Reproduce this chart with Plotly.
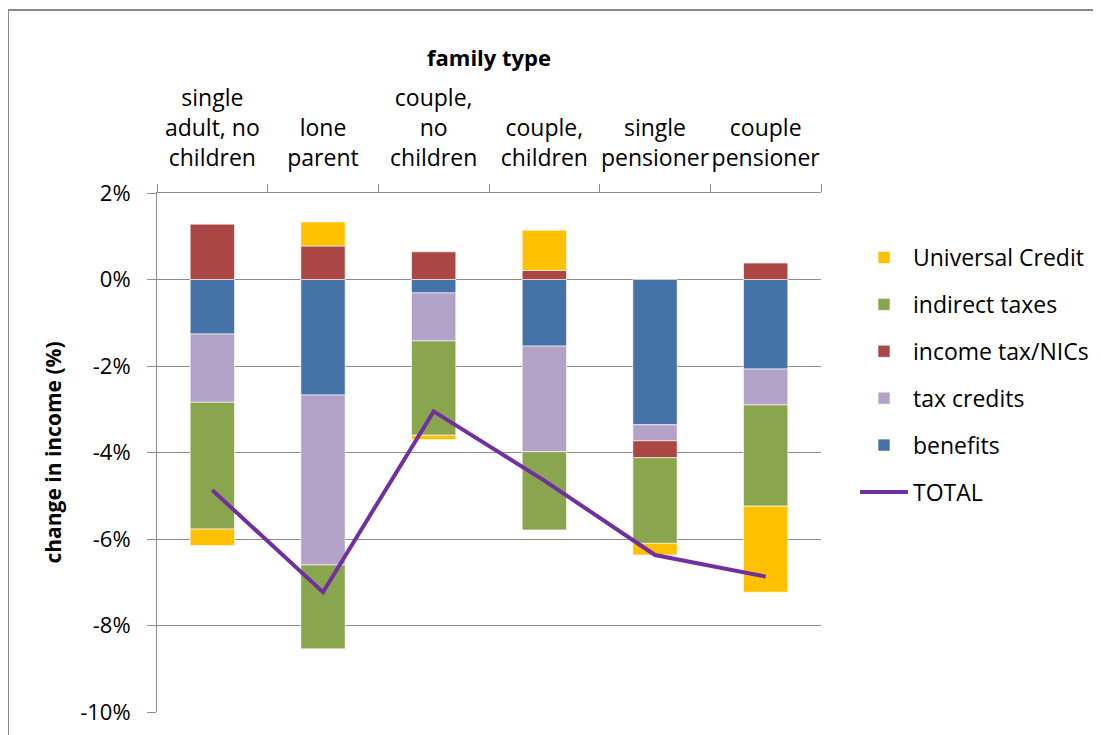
import plotly.graph_objects as go

# ---- data (percent change in income) ----
categories = ["single<br>adult, no<br>children", "lone<br>parent", "couple,<br>no<br>children",
              "couple,<br>children", "single<br>pensioner", "couple<br>pensioner"]
benefits = [-1.26, -2.67, -0.31, -1.54, -3.36, -2.07]
tax_credits = [-1.58, -3.93, -1.11, -2.44, -0.37, -0.83]
income_tax_nics = [1.28, 0.775, 0.64, 0.21, -0.39, 0.38]
indirect_taxes = [-2.93, -1.94, -2.18, -1.81, -1.98, -2.34]
universal_credit = [-0.38, 0.555, -0.10, 0.93, -0.27, -1.99]
total = [-4.87, -7.23, -3.05, -4.65, -6.37, -6.87]
y_tick_vals = [2, 0, -2, -4, -6, -8, -10]
y_tick_text = ["2%", "0%", "-2%", "-4%", "-6%", "-8%", "-10%"]

# ---- layout geometry (pixels, screen coords; page body adds an 8px offset) ----
OFF = 8
W, H = 1101, 735
PL, PR, PT, PB = 157, 821, 193, 712          # plot area on screen
ML, MT = PL - OFF, PT - OFF
MR, MB = W + OFF - PR, H + OFF - PB
PW, PH = PR - PL, PB - PT
FONT = "Open Sans"
GRID = "#8c8c8c"


def px_x(x):
    return (x - PL) / PW


def px_y(y):
    return (PB - y) / PH


fig = go.Figure()

fig.add_trace(go.Scatter(x=categories, y=total, name="TOTAL", mode="lines",
                         line=dict(color="#7030A0", width=4), legendgroup="g0", legendrank=6))

series = [
    ("benefits", benefits, "#4572A7", 5),
    ("tax credits", tax_credits, "#B3A2C7", 4),
    ("income tax/NICs", income_tax_nics, "#AA4643", 3),
    ("indirect taxes", indirect_taxes, "#89A54E", 2),
    ("Universal Credit", universal_credit, "#FFC000", 1),
]
for i, (name, vals, col, rank) in enumerate(series):
    fig.add_trace(go.Bar(x=categories, y=vals, name=name, legendgroup=f"g{i+1}", legendrank=rank,
                         marker=dict(color=col, line=dict(color="rgba(255,255,255,0.6)", width=1))))

fig.update_layout(
    width=W, height=H,
    margin=dict(l=ML, r=MR, t=MT, b=MB, autoexpand=False),
    barmode="relative", bargap=0.6,
    plot_bgcolor="white", paper_bgcolor="white",
    font=dict(family=FONT, size=22, color="#000000"),
    title=dict(text="family type", x=px_x(489), xref="paper", xanchor="center",
               y=1 - (58 - OFF) / H, yref="container", yanchor="middle",
               font=dict(family=FONT, size=22, weight="bold", color="#000000")),
    legend=dict(x=px_x(855), y=px_y(236), xanchor="left", yanchor="top",
                traceorder="grouped", tracegroupgap=14, itemwidth=48,
                font=dict(family=FONT, size=23), bgcolor="rgba(0,0,0,0)"),
    showlegend=True,
)

fig.update_xaxes(side="top", type="category", showline=True, linecolor=GRID, linewidth=1,
                 ticks="outside", tickson="boundaries", ticklen=8, tickcolor=GRID,
                 showgrid=False, tickangle=0, tickfont=dict(family=FONT, size=23),
                 ticklabelstandoff=17, fixedrange=True)
fig.update_yaxes(range=[-10, 2], tickvals=y_tick_vals, ticktext=y_tick_text,
                 showgrid=True, gridcolor=GRID, gridwidth=1,
                 zeroline=True, zerolinecolor=GRID, zerolinewidth=1,
                 showline=True, linecolor=GRID, linewidth=1,
                 ticks="outside", ticklen=9, tickcolor=GRID, ticklabelstandoff=12,
                 tickfont=dict(family=FONT, size=22),
                 title=dict(text="change in income (%)", standoff=12,
                            font=dict(family=FONT, size=21, weight="bold")))

# chart-area border (top and left edges visible in the cropped original)
fig.add_shape(type="line", xref="paper", yref="paper", x0=px_x(8), x1=px_x(W + 20),
              y0=px_y(10), y1=px_y(10), line=dict(color="#8a8a8a", width=2))
fig.add_shape(type="line", xref="paper", yref="paper", x0=px_x(8), x1=px_x(8),
              y0=px_y(10), y1=px_y(H + 20), line=dict(color="#8a8a8a", width=2))

fig.write_html("out.html")
